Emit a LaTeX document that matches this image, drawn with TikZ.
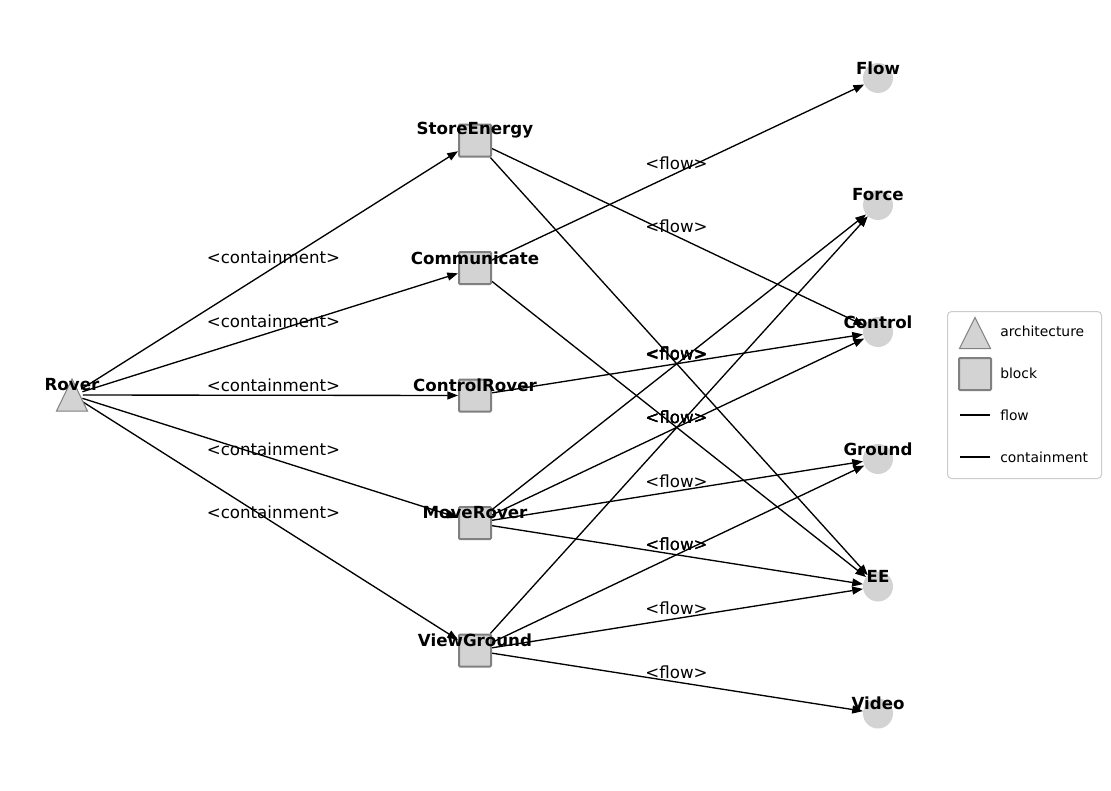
\documentclass[tikz,border=0pt]{standalone}
\usepackage{fontspec}
\setmainfont{DejaVu Sans}
\usetikzlibrary{arrows.meta,calc,backgrounds}
\definecolor{lg}{HTML}{D3D3D3}
\definecolor{bd}{HTML}{808080}
\definecolor{legbd}{HTML}{CCCCCC}
\begin{document}
\begin{tikzpicture}[x=0.75pt,y=-0.75pt,
  blk/.style={rectangle, draw=bd, fill=lg, line width=1.5pt, minimum size=24pt, inner sep=0pt, rounded corners=0.8pt},
  ent/.style={circle, fill=lg, minimum size=22.5pt, inner sep=0pt},
  archnode/.style={circle, minimum size=16pt, inner sep=0pt},
  nlabel/.style={inner sep=0pt, font=\bfseries\fontsize{12.5}{15}\selectfont},
  elbl/.style={inner sep=0pt, font=\fontsize{12.5}{15}\selectfont},
  leglbl/.style={inner sep=0pt, anchor=west, font=\fontsize{10.4}{12}\selectfont},
  edge/.style={draw, line width=1pt, -{Triangle[length=8pt,width=6pt]}},
  tri/.style={fill=lg, draw=bd, line width=0.75pt, line join=miter}
]
\useasboundingbox (0,0) rectangle (1111,790);

% nodes
\node[archnode] (Rover) at (72,395) {};
\node[blk] (SE) at (475,140.5) {};
\node[blk] (COM) at (475,268) {};
\node[blk] (CR) at (475,395.5) {};
\node[blk] (MR) at (475,523) {};
\node[blk] (VG) at (475,650.5) {};
\node[ent] (Flow) at (878,78) {};
\node[ent] (Force) at (878,205) {};
\node[ent] (Control) at (878,332) {};
\node[ent] (Ground) at (878,459) {};
\node[ent] (EE) at (878,586.5) {};
\node[ent] (Video) at (878,713.5) {};

\begin{scope}[on background layer]
\fill[white] (0,0) rectangle (1111,790);
% containment
\foreach \t in {SE,COM,CR,MR,VG} {
  \draw[edge] (Rover) -- (\t);
  \node[elbl] at ($(Rover)!0.5!(\t)+(0,-10)$) {<containment>};
}
% flow
\foreach \s/\t in {SE/Control,SE/EE,COM/Flow,COM/EE,CR/Control,MR/Force,MR/Control,MR/Ground,MR/EE,VG/Force,VG/Ground,VG/EE,VG/Video} {
  \draw[edge] (\s) -- (\t);
  \node[elbl] at ($(\s)!0.5!(\t)+(0,-10)$) {<flow>};
}
\end{scope}

% Rover triangle
\filldraw[tri] ($(Rover)+(0,-16)$) -- ($(Rover)+(-15.5,16)$) -- ($(Rover)+(15.5,16)$) -- cycle;

% node labels
\node[nlabel] (RoverT) at (72,385) {Rover};
\node[nlabel] (SET) at (475,130.5) {StoreEnergy};
\node[nlabel] (COMT) at (475,258) {Communicate};
\node[nlabel] (CRT) at (475,385.5) {ControlRover};
\node[nlabel] (MRT) at (475,513) {MoveRover};
\node[nlabel] (VGT) at (475,640.5) {ViewGround};
\node[nlabel] (FlowT) at (878,68) {Flow};
\node[nlabel] (ForceT) at (878,195) {Force};
\node[nlabel] (ControlT) at (878,322) {Control};
\node[nlabel] (GroundT) at (878,449) {Ground};
\node[nlabel] (EET) at (878,576.5) {EE};
\node[nlabel] (VideoT) at (878,703.5) {Video};

% legend
\draw[legbd, fill=white, rounded corners=3pt, line width=0.75pt] (947.5,311.5) rectangle (1101.5,478.5);
\coordinate (LA) at (975,333);
\filldraw[tri] ($(LA)+(0,-15.5)$) -- ($(LA)+(-15.5,15.5)$) -- ($(LA)+(15.5,15.5)$) -- cycle;
\node[blk] (LB) at (975,374) {};
\coordinate (LF1) at (960,415);
\coordinate (LF2) at (990,415);
\coordinate (LC1) at (960,457);
\coordinate (LC2) at (990,457);
\draw[line width=1.4pt] (LF1) -- (LF2);
\draw[line width=1.4pt] (LC1) -- (LC2);
\node[leglbl] (LAT) at (1000,331) {architecture};
\node[leglbl] (LBT) at (1000,373) {block};
\node[leglbl] (LFT) at (1000,415) {flow};
\node[leglbl] (LCT) at (1000,457) {containment};
\end{tikzpicture}
\end{document}
